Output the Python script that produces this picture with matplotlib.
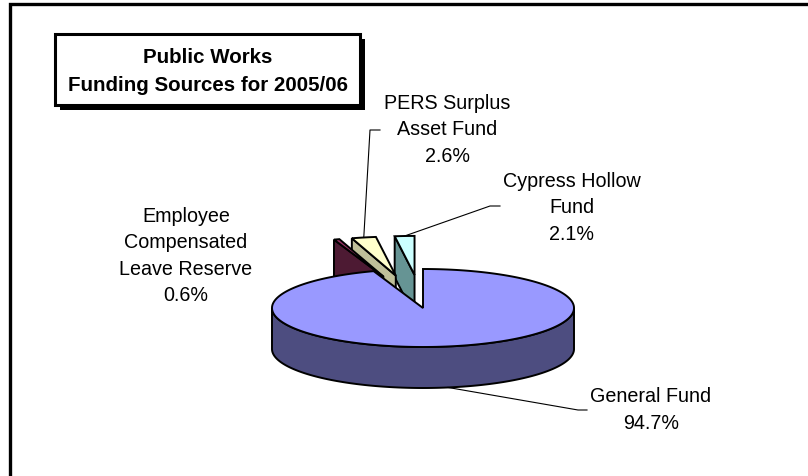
import numpy as np
import matplotlib
matplotlib.use("Agg")
import matplotlib.pyplot as plt
from matplotlib.patches import Polygon, Rectangle

# ---------------- data ----------------
categories = ["General Fund", "Employee\nCompensated\nLeave Reserve",
              "PERS Surplus\nAsset Fund", "Cypress Hollow\nFund"]
values = [94.7, 0.6, 2.6, 2.1]
pct_labels = ["94.7%", "0.6%", "2.6%", "2.1%"]
title_lines = ["Public Works", "Funding Sources for 2005/06"]

# ---------------- style ----------------
top_colors = ["#9999FF", "#993366", "#FFFFCC", "#CCFFFF"]
side_colors = ["#4D4D80", "#4D1A33", "#BFBF99", "#669494"]
explode = [0.0, 0.85, 0.85, 0.85]
FONT = "Liberation Sans"

W, H = 808, 477
fig = plt.figure(figsize=(W / 100, H / 100), dpi=100)
ax = fig.add_axes([0, 0, 1, 1])
ax.set_xlim(0, W)
ax.set_ylim(H, 0)
ax.axis("off")

# pie geometry (pixel space)
CX, CY, RX, RY, DEPTH = 423, 309, 151, 39, 41
START = 90.0
EDGE = dict(edgecolor="black", linewidth=1.4, joinstyle="miter")

total = float(sum(values))
spans = []
acc = 0.0
for v in values:
    hi = START - acc / total * 360.0
    acc += v
    lo = START - acc / total * 360.0
    spans.append((lo, hi))


def pt(cx, cy, ang, z=0.0):
    a = np.deg2rad(ang)
    return (cx + RX * np.cos(a), cy - RY * np.sin(a) + z)


def arc(cx, cy, a0, a1, z=0.0, n=None):
    if n is None:
        n = max(3, int(abs(a1 - a0) * 2))
    t = np.linspace(a0, a1, n)
    return [pt(cx, cy, a, z) for a in t]


centers = []
for i, (lo, hi) in enumerate(spans):
    mid = np.deg2rad((lo + hi) / 2)
    e = explode[i]
    centers.append((CX + e * RX * np.cos(mid), CY - e * RY * np.sin(mid)))


def draw_slice(i, zo):
    lo, hi = spans[i]
    cx, cy = centers[i]
    # radial faces
    if np.cos(np.deg2rad(hi)) < -1e-9:
        p1 = pt(cx, cy, hi)
        poly = [(cx, cy), p1, (p1[0], p1[1] + DEPTH), (cx, cy + DEPTH)]
        ax.add_patch(Polygon(poly, closed=True, facecolor=side_colors[i], zorder=zo, **EDGE))
    if np.cos(np.deg2rad(lo)) > 1e-9:
        p1 = pt(cx, cy, lo)
        poly = [(cx, cy), p1, (p1[0], p1[1] + DEPTH), (cx, cy + DEPTH)]
        ax.add_patch(Polygon(poly, closed=True, facecolor=side_colors[i], zorder=zo, **EDGE))
    # outer wall (front half, sin < 0)
    for k in range(-2, 3):
        a0 = max(lo, -180 + 360 * k)
        a1 = min(hi, 0 + 360 * k)
        if a1 > a0:
            top = arc(cx, cy, a0, a1)
            bot = arc(cx, cy, a1, a0, DEPTH)
            ax.add_patch(Polygon(top + bot, closed=True, facecolor=side_colors[i],
                                 zorder=zo + 0.1, **EDGE))
    # top face
    poly = [(cx, cy)] + arc(cx, cy, lo, hi)
    ax.add_patch(Polygon(poly, closed=True, facecolor=top_colors[i], zorder=zo + 0.2, **EDGE))


for zo, i in enumerate([3, 2, 1, 0]):
    draw_slice(i, 2 + zo)

# ---------------- labels ----------------
label_pos = {
    0: dict(xy=(651, 410), knee=(587, 578), lead_y=411, attach="bottom"),
    1: dict(xy=(186, 256), knee=None),
    2: dict(xy=(447, 130), knee=(380, 370), lead_y=131, attach="top"),
    3: dict(xy=(572, 208), knee=(500, 490), lead_y=207, attach="top"),
}
for i, lp in label_pos.items():
    txt = categories[i] + "\n" + pct_labels[i]
    ax.text(lp["xy"][0], lp["xy"][1], txt, ha="center", va="center", multialignment="center",
            fontsize=14.25, family=FONT, linespacing=1.5, zorder=10)
    if lp["knee"] is not None:
        lo, hi = spans[i]
        cx, cy = centers[i]
        mid = (lo + hi) / 2
        z = DEPTH if lp["attach"] == "bottom" else 0
        ex, ey = pt(cx, cy, mid, z)
        ax.plot([lp["knee"][0], lp["knee"][1], ex], [lp["lead_y"], lp["lead_y"], ey],
                color="black", lw=0.8, zorder=9)

# ---------------- title box ----------------
bx0, by0, bx1, by1 = 55, 35, 360, 106
ax.add_patch(Rectangle((bx0 + 5, by0 + 5), bx1 - bx0, by1 - by0, facecolor="black",
                       edgecolor="black", lw=0, zorder=11))
ax.add_patch(Rectangle((bx0, by0), bx1 - bx0, by1 - by0, facecolor="white",
                       edgecolor="black", lw=2.2, zorder=12))
ax.text((bx0 + bx1) / 2, (by0 + by1) / 2 + 1, "\n".join(title_lines), ha="center", va="center",
        fontsize=14.8, family=FONT, fontweight="bold", linespacing=1.62, zorder=13)

# ---------------- outer frame ----------------
ax.plot([10, 10, W + 5], [H + 5, 4.5, 4.5], color="black", lw=2.4, solid_joinstyle="miter",
        zorder=14)

fig.savefig("out.png", dpi=100, facecolor="white")
